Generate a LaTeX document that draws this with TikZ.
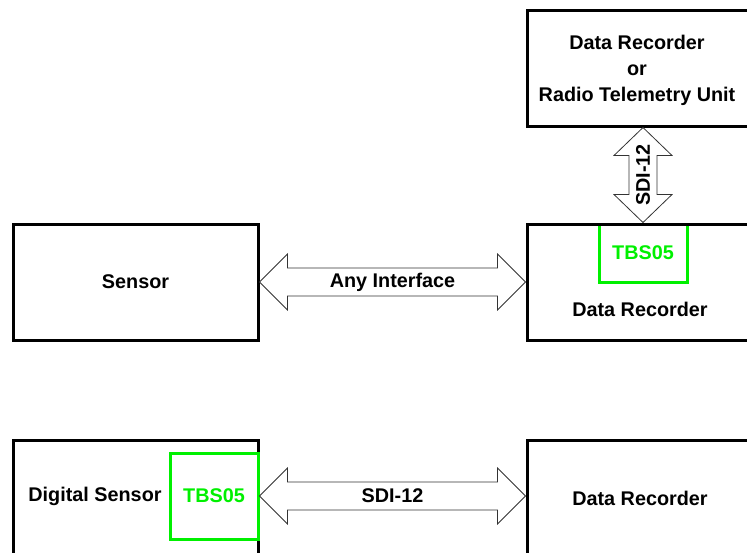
\documentclass[tikz,border=0pt]{standalone}
\usepackage{fontspec}
\setmainfont{Liberation Sans}
\usetikzlibrary{calc}

\definecolor{tbsgreen}{RGB}{0,240,0}

% fat double arrow, horizontal and vertical
\newcommand{\hfatarrow}[2]{%
  \draw[fat arrow] (#1) -- ($(#1)+(28,-28)$) -- ($(#1)+(28,-14)$)
    -- ($(#2)+(-28,-14)$) -- ($(#2)+(-28,-28)$) -- (#2)
    -- ($(#2)+(-28,28)$) -- ($(#2)+(-28,14)$)
    -- ($(#1)+(28,14)$) -- ($(#1)+(28,28)$) -- cycle;}
\newcommand{\vfatarrow}[2]{%
  \draw[fat arrow] (#1) -- ($(#1)+(29,28)$) -- ($(#1)+(14,28)$)
    -- ($(#2)+(14,-28)$) -- ($(#2)+(29,-28)$) -- (#2)
    -- ($(#2)+(-29,-28)$) -- ($(#2)+(-14,-28)$)
    -- ($(#1)+(-14,28)$) -- ($(#1)+(-29,28)$) -- cycle;}

\begin{document}
\begin{tikzpicture}[x=1pt,y=-1pt,
	font=\fontsize{19.8}{26}\selectfont\bfseries,
	box/.style={rectangle,draw,line width=3pt,inner sep=0pt},
	left box/.style={box,minimum width=245pt,minimum height=116pt},
	right box/.style={box,minimum width=226pt,minimum height=116pt},
	tbs box/.style={rectangle,draw=tbsgreen,line width=3pt,inner sep=0pt,
		minimum width=88pt,text=tbsgreen},
	fat arrow/.style={draw=black!80,line width=0.8pt,line join=miter}]
	
	\clip (0,0) rectangle (747,552);
	
	% boxes
	\node[right box] (top) at (640,68) {};
	\node[align=center] (toptext) at (637,70.5) {Data Recorder\\or\\Radio Telemetry Unit};
	
	\node[left box] (sensor) at (135.5,282) {Sensor};
	\node[tbs box,minimum height=58pt] (tbs1) at (643,253) {TBS05};
	\node[right box] (rec1) at (640,282) {};
	\node (rec1text) at (640,309) {Data Recorder};
	
	\node[left box] (dsensor) at (135.5,498) {};
	\node (dsensortext) at (95,496) {Digital Sensor};
	\node[tbs box,minimum height=86pt] (tbs2) at (214,496) {TBS05};
	\node[right box] (rec2) at (640,498) {Data Recorder};
	
	% interfaces
	\vfatarrow{tbs1.north |- top.south}{tbs1.north}
	\hfatarrow{sensor.east}{rec1.west}
	\hfatarrow{tbs2.east}{tbs2.east -| rec2.west}
	
	\node[rotate=90] (sdi1) at ($(top.south -| tbs1.north)!0.5!(tbs1.north)$) {SDI-12};
	\node (anyif) at ($(sensor.east)!0.5!(rec1.west)$) {Any Interface};
	\node (sdi2) at ($(tbs2.east)!0.5!(tbs2.east -| rec2.west)$) {SDI-12};
\end{tikzpicture}
\end{document}
